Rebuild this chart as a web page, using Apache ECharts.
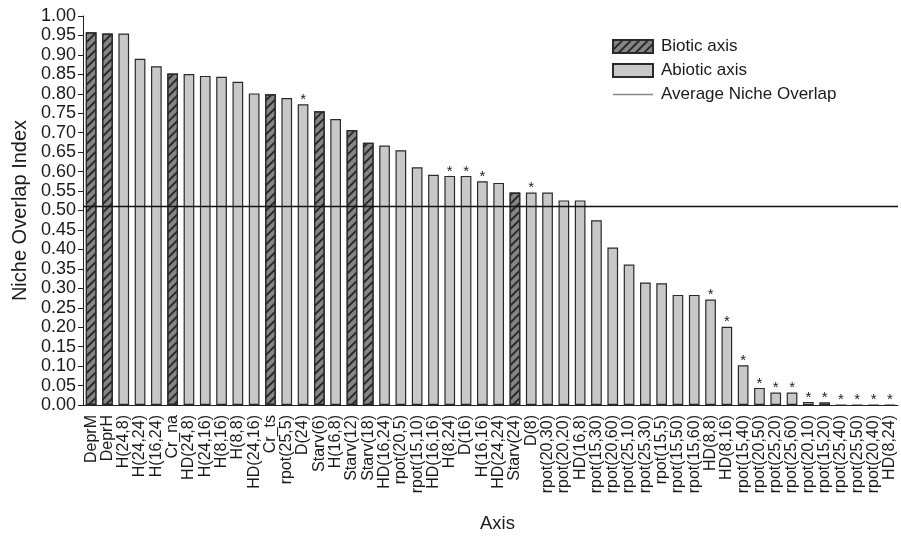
<!DOCTYPE html>
<html>
<head>
<meta charset="utf-8">
<script src="https://cdn.jsdelivr.net/npm/echarts@6/dist/echarts.min.js"></script>
<style>html,body{margin:0;padding:0;background:#fff}#c{width:901px;height:538px}</style>
</head>
<body>
<div id="c"></div>
<script>
const categories = ['DeprM','DeprH','H(24,8)','H(24,24)','H(16,24)','Cr_na','HD(24,8)','H(24,16)','H(8,16)','H(8,8)',
  'HD(24,16)','Cr_ts','rpot(25,5)','D(24)','Starv(6)','H(16,8)','Starv(12)','Starv(18)','HD(16,24)','rpot(20,5)',
  'rpot(15,10)','HD(16,16)','H(8,24)','D(16)','H(16,16)','HD(24,24)','Starv(24)','D(8)','rpot(20,30)','rpot(20,20)',
  'HD(16,8)','rpot(15,30)','rpot(20,60)','rpot(25,10)','rpot(25,30)','rpot(15,5)','rpot(15,50)','rpot(15,60)','HD(8,8)','HD(8,16)',
  'rpot(15,40)','rpot(20,50)','rpot(25,20)','rpot(25,60)','rpot(20,10)','rpot(15,20)','rpot(25,40)','rpot(25,50)','rpot(20,40)','HD(8,24)'];
const values = [0.958,0.955,0.955,0.890,0.871,0.852,0.851,0.846,0.844,0.831,
  0.801,0.799,0.789,0.773,0.755,0.735,0.707,0.674,0.667,0.655,
  0.611,0.592,0.589,0.589,0.575,0.571,0.546,0.546,0.546,0.526,
  0.526,0.475,0.405,0.361,0.315,0.313,0.283,0.283,0.271,0.201,
  0.102,0.044,0.032,0.032,0.008,0.007,0,0,0,0];
const bioticAxes = ['DeprM','DeprH','Cr_na','Cr_ts','Starv(6)','Starv(12)','Starv(18)','Starv(24)'];
const significant = ['D(24)','H(8,24)','D(16)','H(16,16)','D(8)','HD(8,8)','HD(8,16)','rpot(15,40)','rpot(20,50)','rpot(25,20)',
  'rpot(25,60)','rpot(20,10)','rpot(15,20)','rpot(25,40)','rpot(25,50)','rpot(20,40)','HD(8,24)'];
const averageOverlap = 0.51;
const yTicks = {min: 0, max: 1, interval: 0.05};

const FONT = 'Liberation Sans, Arial, sans-serif';
const TXT = '#1a1a1a';
function mk(isBiotic) {
  return categories.map((c, i) => {
    if (bioticAxes.includes(c) !== isBiotic) return '-';
    const item = {value: values[i]};
    if (significant.includes(c)) {
      item.label = {show: true, position: 'top', formatter: '*', distance: -3,
        fontSize: 15, color: '#222', fontFamily: FONT};
    }
    return item;
  });
}
const chart = echarts.init(document.getElementById('c'), null, {renderer: 'canvas'});
chart.setOption({
  animation: false,
  backgroundColor: '#fff',
  grid: {left: 83, right: 3, top: 16, bottom: 131, containLabel: false},
  legend: {
    orient: 'vertical', left: 607, top: 33, itemGap: 7, itemWidth: 40, itemHeight: 13,
    textStyle: {fontFamily: FONT, fontSize: 17, color: TXT, padding: [0, 0, 0, 3]},
    data: [
      {name: 'Biotic axis', icon: 'rect'},
      {name: 'Abiotic axis', icon: 'rect'},
      {name: 'Average Niche Overlap', icon: 'path://M0,0H40V1.6H0Z', itemStyle: {color: '#888'}}
    ]
  },
  xAxis: {
    type: 'category', data: categories,
    name: 'Axis', nameLocation: 'middle', nameGap: 109,
    nameTextStyle: {fontFamily: FONT, fontSize: 18.5, color: TXT, padding: [0, 0, 0, 14]},
    axisLine: {lineStyle: {color: '#222', width: 1}},
    axisTick: {show: false},
    axisLabel: {interval: 0, rotate: 90, fontFamily: FONT, fontSize: 16, color: TXT, margin: 10}
  },
  yAxis: {
    type: 'value', min: yTicks.min, max: yTicks.max, interval: yTicks.interval,
    name: 'Niche Overlap Index', nameLocation: 'middle', nameGap: 47,
    nameTextStyle: {fontFamily: FONT, fontSize: 20, color: TXT},
    axisLine: {show: true, lineStyle: {color: '#222', width: 1}},
    axisTick: {show: true, inside: false, length: 5, lineStyle: {color: '#222'}},
    splitLine: {show: false},
    axisLabel: {fontFamily: FONT, fontSize: 18, color: TXT, margin: 7,
      formatter: v => v.toFixed(2)}
  },
  series: [
    {
      name: 'Biotic axis', type: 'bar', data: mk(true), barWidth: 10.7, barGap: '-100%',
      itemStyle: {color: '#858585', borderColor: '#2a2a2a', borderWidth: 1.2,
        decal: {symbol: 'rect', symbolSize: 1, color: '#2a2a2a', dashArrayX: [1, 0], dashArrayY: [1.5, 3.5], rotation: -Math.PI / 4}}
    },
    {
      name: 'Abiotic axis', type: 'bar', data: mk(false), barWidth: 10.7, barGap: '-100%',
      itemStyle: {color: '#c8c8c8', borderColor: '#2a2a2a', borderWidth: 1.2}
    },
    {
      name: 'Average Niche Overlap', type: 'line', data: [], symbol: 'none',
      lineStyle: {color: '#888', width: 1.6},
      itemStyle: {color: '#888'},
      markLine: {
        silent: true, symbol: 'none', label: {show: false},
        lineStyle: {color: '#111', width: 1.3, type: 'solid'},
        data: [{yAxis: averageOverlap}]
      }
    }
  ]
});
</script>
</body>
</html>
